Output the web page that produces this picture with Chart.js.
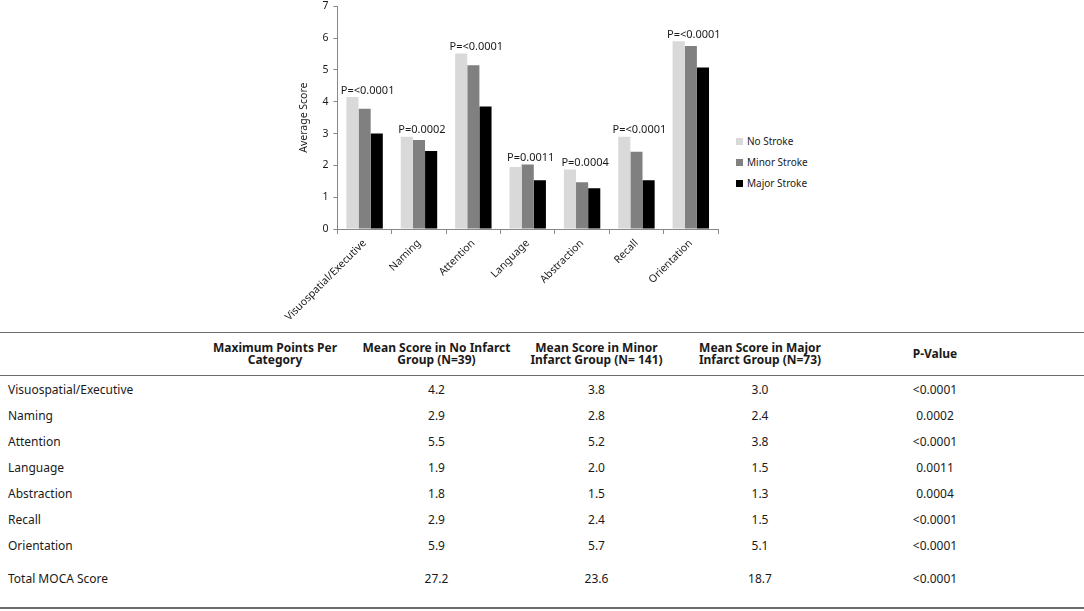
<!DOCTYPE html>
<html>
<head>
<meta charset="utf-8">
<script src="https://cdn.jsdelivr.net/npm/chart.js@4"></script>
<style>
  html, body { margin: 0; padding: 0; background: #fff; }
  body { width: 1084px; height: 611px; position: relative; overflow: hidden; font-family: "Noto Sans", "Open Sans", sans-serif; color: #1a1a1a; }
  #chartBox { position: absolute; left: 280px; top: -5px; width: 440px; height: 335px; }
  #legend { position: absolute; left: 736px; top: 134px; font-size: 10px; }
  #legend div { height: 21px; line-height: 14px; white-space: nowrap; }
  #legend span.sw { display: inline-block; width: 7px; height: 7px; margin-right: 4px; vertical-align: 0px; }
  #tbl { position: absolute; left: 0; top: 332px; width: 1084px; border-collapse: collapse; font-size: 12px; }
  #tbl th { font-weight: bold; height: 42px; padding: 0; line-height: 12.5px; vertical-align: middle; text-align: center; border-top: 1.5px solid #6b6b6b; border-bottom: 1.5px solid #6b6b6b; }
  #tbl td { height: 26px; padding: 0; text-align: center; vertical-align: middle; }
  #tbl td.lab { text-align: left; padding-left: 8px; }
  #tbl tr.total td { height: 35px; padding-top: 14px; line-height: 14px; vertical-align: top; border-bottom: 2px solid #6b6b6b; }
</style>
</head>
<body>
<div id="chartBox"><canvas id="scoreChart"></canvas></div>
<div id="legend"></div>
<table id="tbl"></table>
<script>
// Chart data
const categories = ['Visuospatial/Executive', 'Naming', 'Attention', 'Language', 'Abstraction', 'Recall', 'Orientation'];
const noStroke = [4.15, 2.9, 5.52, 1.95, 1.87, 2.9, 5.9];
const minorStroke = [3.78, 2.8, 5.15, 2.03, 1.47, 2.43, 5.75];
const majorStroke = [3.0, 2.45, 3.85, 1.53, 1.28, 1.53, 5.08];
const pLabels = ['P=<0.0001', 'P=0.0002', 'P=<0.0001', 'P=0.0011', 'P=0.0004', 'P=<0.0001', 'P=<0.0001'];
const seriesNames = ['No Stroke', 'Minor Stroke', 'Major Stroke'];
const seriesColors = ['#d9d9d9', '#808080', '#000000'];
const yMin = 0, yMax = 7, yStep = 1;

// Table data
const tableHeaders = ['', 'Maximum Points Per<br>Category', 'Mean Score in No Infarct<br>Group (N=39)',
    'Mean Score in Minor<br>Infarct Group (N= 141)', 'Mean Score in Major<br>Infarct Group (N=73)', 'P-Value', ''];
const rowLabels = ['Visuospatial/Executive', 'Naming', 'Attention', 'Language', 'Abstraction', 'Recall', 'Orientation', 'Total MOCA Score'];
const maxPoints = ['', '', '', '', '', '', '', ''];
const meanNo = ['4.2', '2.9', '5.5', '1.9', '1.8', '2.9', '5.9', '27.2'];
const meanMinor = ['3.8', '2.8', '5.2', '2.0', '1.5', '2.4', '5.7', '23.6'];
const meanMajor = ['3.0', '2.4', '3.8', '1.5', '1.3', '1.5', '5.1', '18.7'];
const pValues = ['<0.0001', '0.0002', '<0.0001', '0.0011', '0.0004', '<0.0001', '<0.0001', '<0.0001'];
const colWidths = [195, 160, 163, 157, 170, 180, 59];

/**
 * Draw the p-value text above each category group
 */
const pValuePlugin = {
    id: 'pValues',
    afterDatasetsDraw(chart) {
        const ctx = chart.ctx;
        const x = chart.scales.x;
        const y = chart.scales.y;
        ctx.save();
        ctx.font = '11px "Noto Sans", sans-serif';
        ctx.fillStyle = '#1a1a1a';
        ctx.textAlign = 'center';
        ctx.textBaseline = 'bottom';
        categories.forEach((c, i) => {
            const top = Math.max(noStroke[i], minorStroke[i], majorStroke[i]);
            ctx.fillText(pLabels[i], x.getPixelForValue(i) + 3, y.getPixelForValue(top) - 1);
        });
        ctx.restore();
    },
};

function initializeChart() {
    const ctx = document.getElementById('scoreChart').getContext('2d');
    const sets = [noStroke, minorStroke, majorStroke];

    new Chart(ctx, {
        type: 'bar',
        data: {
            labels: categories,
            datasets: sets.map((d, i) => ({
                label: seriesNames[i],
                data: d,
                backgroundColor: seriesColors[i],
                borderWidth: 0,
                categoryPercentage: 0.67,
                barPercentage: 1.0,
            })),
        },
        options: {
            responsive: true,
            maintainAspectRatio: false,
            animation: false,
            layout: { padding: { top: 0, right: 2, left: 0, bottom: 0 } },
            scales: {
                x: {
                    grid: { display: true, drawOnChartArea: false, drawTicks: true, tickLength: 5, color: '#888', offset: true },
                    border: { color: '#888', width: 1 },
                    ticks: {
                        font: { size: 10.5, family: '"Noto Sans", sans-serif' },
                        color: '#1a1a1a',
                        minRotation: 45,
                        maxRotation: 45,
                        padding: 3,
                        autoSkip: false,
                    },
                    afterFit(scale) { scale.height = 101; },
                },
                y: {
                    min: yMin,
                    max: yMax,
                    grid: { display: true, drawOnChartArea: false, drawTicks: true, tickLength: 4, color: '#888' },
                    border: { color: '#888', width: 1 },
                    ticks: {
                        stepSize: yStep,
                        font: { size: 10.5, family: '"Noto Sans", sans-serif' },
                        color: '#1a1a1a',
                        padding: 5,
                    },
                    title: {
                        display: true,
                        text: 'Average Score',
                        font: { size: 10.5, family: '"Noto Sans", sans-serif' },
                        color: '#1a1a1a',
                        padding: { top: 17, bottom: 0 },
                    },
                    afterFit(scale) { scale.width = 57; },
                },
            },
            plugins: {
                legend: { display: false },
                tooltip: { enabled: false },
            },
        },
        plugins: [pValuePlugin],
    });
}

/**
 * Build the HTML legend beside the chart
 */
function initializeLegend() {
    const legend = document.getElementById('legend');
    legend.innerHTML = seriesNames.map((n, i) =>
        '<div><span class="sw" style="background:' + seriesColors[i] + '"></span>' + n + '</div>'
    ).join('');
}

/**
 * Build the results table below the chart
 */
function initializeTable() {
    const tbl = document.getElementById('tbl');
    let html = '<colgroup>' + colWidths.map(w => '<col style="width:' + w + 'px">').join('') + '</colgroup>';
    html += '<tr>' + tableHeaders.map(h => '<th>' + h + '</th>').join('') + '</tr>';
    rowLabels.forEach((r, i) => {
        const cls = i === rowLabels.length - 1 ? 'total' : '';
        html += '<tr class="' + cls + '"><td class="lab">' + r + '</td><td>' + maxPoints[i] + '</td><td>' + meanNo[i] +
            '</td><td>' + meanMinor[i] + '</td><td>' + meanMajor[i] + '</td><td>' + pValues[i] + '</td><td></td></tr>';
    });
    tbl.innerHTML = html;
}

initializeChart();
initializeLegend();
initializeTable();
</script>
</body>
</html>
